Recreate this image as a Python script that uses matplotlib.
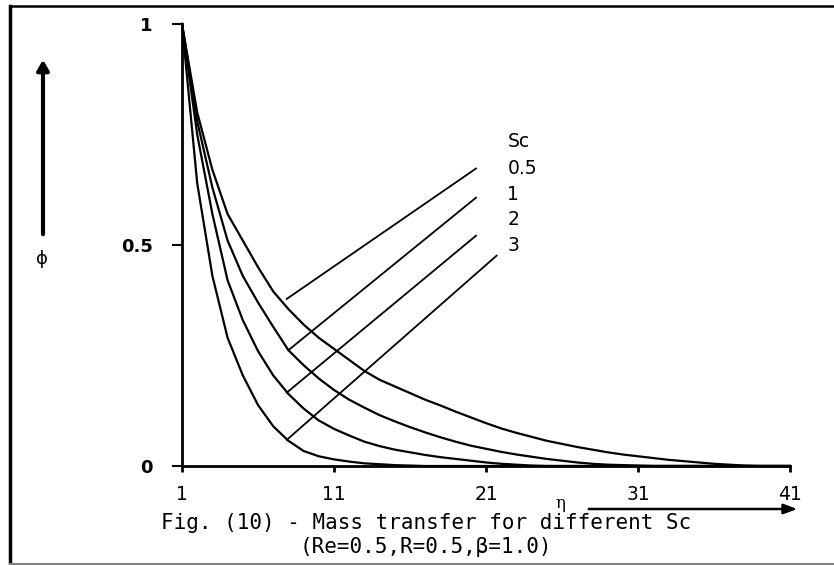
import matplotlib
matplotlib.use("Agg")
import matplotlib.pyplot as plt
from matplotlib.lines import Line2D
import numpy as np

# data (eta index 1..41)
eta = np.arange(1, 42)
sc_labels = ["0.5", "1", "2", "3"]
phi_05 = [1.0, 0.80, 0.67, 0.57, 0.51, 0.45, 0.395, 0.355, 0.32, 0.29, 0.265,
          0.24, 0.215, 0.195, 0.18, 0.165, 0.15, 0.137, 0.123, 0.11, 0.097,
          0.085, 0.075, 0.066, 0.057, 0.05, 0.043, 0.037, 0.031, 0.026, 0.022,
          0.018, 0.014, 0.011, 0.008, 0.005, 0.003, 0.001, 0, 0, 0]
phi_1 = [1.0, 0.78, 0.63, 0.51, 0.43, 0.37, 0.315, 0.262, 0.228, 0.198, 0.172,
         0.15, 0.132, 0.115, 0.101, 0.088, 0.076, 0.065, 0.055, 0.046, 0.039,
         0.032, 0.026, 0.021, 0.016, 0.012, 0.008, 0.005, 0.003, 0.002, 0.001,
         0, 0, 0, 0, 0, 0, 0, 0, 0, 0]
phi_2 = [1.0, 0.75, 0.57, 0.42, 0.33, 0.26, 0.205, 0.163, 0.13, 0.103, 0.084,
         0.069, 0.055, 0.045, 0.037, 0.031, 0.025, 0.02, 0.016, 0.012, 0.008,
         0.005, 0.003, 0.001, 0, 0, 0, 0, 0, 0, 0,
         0, 0, 0, 0, 0, 0, 0, 0, 0, 0]
phi_3 = [1.0, 0.64, 0.43, 0.29, 0.205, 0.138, 0.09, 0.057, 0.034, 0.022, 0.015,
         0.01, 0.006, 0.004, 0.002, 0.001, 0, 0, 0, 0, 0,
         0, 0, 0, 0, 0, 0, 0, 0, 0, 0,
         0, 0, 0, 0, 0, 0, 0, 0, 0, 0]
curves = [phi_05, phi_1, phi_2, phi_3]

# leader lines (curve end -> label end)
lead_x0 = [7.89, 8.0, 7.89, 7.89]
lead_y0 = [0.378, 0.262, 0.166, 0.059]
lead_x1 = [20.34, 20.34, 20.34, 21.7]
lead_y1 = [0.673, 0.607, 0.521, 0.476]
label_y = [0.672, 0.615, 0.557, 0.499]

plt.rcParams['font.family'] = ['DejaVu Sans']
wide = 'DejaVu Sans Mono'

fig = plt.figure(figsize=(8.34, 5.65), dpi=100)
ax = fig.add_axes([182/834, 1-466/565, (790-182)/834, (466-24)/565])

for phi in curves:
    ax.plot(eta, phi, color='black', lw=1.6, clip_on=False)

for i in range(4):
    ax.plot([lead_x0[i], lead_x1[i]], [lead_y0[i], lead_y1[i]], color='black', lw=1.3)
    ax.text(22.4, label_y[i], sc_labels[i], fontsize=13.5, va='center', ha='left')
ax.text(22.4, 0.735, "Sc", fontsize=13.5, va='center', ha='left')

ax.set_xlim(1, 41)
ax.set_ylim(0, 1)
ax.set_xticks([1, 11, 21, 31, 41])
ax.set_yticks([0, 0.5, 1])
ax.set_yticklabels(["0", "0.5", "1"], fontweight='bold')
for s in ['top', 'right']:
    ax.spines[s].set_visible(False)
for s in ['left', 'bottom']:
    ax.spines[s].set_linewidth(2)
ax.tick_params(axis='y', direction='out', length=7, width=1.5, pad=14, labelsize=13)
ax.tick_params(axis='x', direction='out', length=4.5, width=2, pad=9, labelsize=13.5)

# axis arrows and symbols
ax.annotate("", xy=(43, 508), xytext=(43, 328), xycoords='figure pixels',
            textcoords='figure pixels',
            arrowprops=dict(arrowstyle='-|>,head_length=0.6,head_width=0.35', lw=3, color='black'))
fig.text(42/834, 1-259/565, "\u03d5", fontsize=13, ha='center', va='center')
ax.annotate("", xy=(800, 56), xytext=(586, 56), xycoords='figure pixels',
            textcoords='figure pixels',
            arrowprops=dict(arrowstyle='-|>,head_length=0.8,head_width=0.3', lw=1.8, color='black'))
fig.text(560/834, 1-503/565, "\u03b7", fontsize=12, ha='center', va='center', family='DejaVu Serif')

# caption
fig.text(426/834, 1-523/565, "Fig. (10) - Mass transfer for different Sc", fontsize=15,
         ha='center', va='center', family=wide)
fig.text(426/834, 1-547/565, "(Re=0.5,R=0.5,\u03b2=1.0)", fontsize=15,
         ha='center', va='center', family=wide)

# frame around the figure
fig.add_artist(Line2D([10/834, 1], [1-6/565, 1-6/565], transform=fig.transFigure, color='black', lw=1.8))
fig.add_artist(Line2D([10/834, 10/834], [1-6/565, 1-564/565], transform=fig.transFigure, color='black', lw=2.5))
fig.add_artist(Line2D([10/834, 1], [1-564/565, 1-564/565], transform=fig.transFigure, color='gray', lw=1.5))

fig.savefig("out.png", dpi=100)
